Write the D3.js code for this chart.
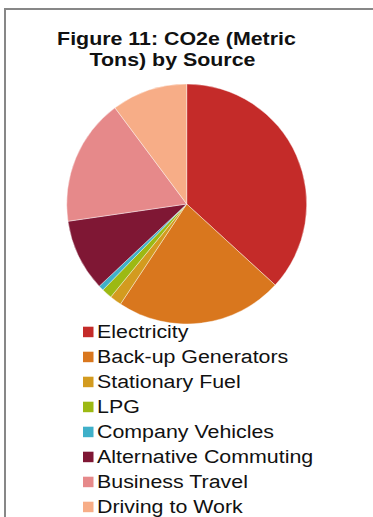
<!DOCTYPE html>
<html>
<head>
<meta charset="utf-8">
<script src="https://cdn.jsdelivr.net/npm/d3@7"></script>
<style>
  html, body { margin: 0; padding: 0; background: #fff; }
  svg { display: block; }
</style>
</head>
<body>
<svg id="chart" width="373" height="517"></svg>
<script>
// CO2e by source, metric tons
const sources = ["Electricity", "Back-up Generators", "Stationary Fuel", "LPG",
                 "Company Vehicles", "Alternative Commuting", "Business Travel", "Driving to Work"];
const tons = [368, 225, 16, 14, 7, 97, 171, 102];
const colors = ["#c42b29", "#d9771e", "#d39b1f", "#9cb913", "#3fb0c9", "#7f1734", "#e6898a", "#f7ad87"];
const titleLines = ["Figure 11: CO2e (Metric", "Tons) by Source"];

window.addEventListener('load', () => {
    const svg = d3.select("#chart");
    const sx = 1.15; // the original picture is stretched sideways a bit

    // frame (only top and left edges show in the crop)
    svg.append("path")
        .attr("d", "M5,517 V9 H373")
        .attr("fill", "none")
        .attr("stroke", "#878787")
        .attr("stroke-width", 2);

    svg.append("text")
        .attr("transform", `scale(${sx},1)`)
        .attr("font-family", "Liberation Sans, Arial, sans-serif")
        .attr("font-weight", "bold")
        .attr("font-size", 18.6)
        .attr("fill", "#111")
        .attr("text-anchor", "middle")
        .selectAll("tspan")
        .data(titleLines)
        .join("tspan")
        .attr("x", (d, i) => (i == 0 ? 176.5 : 172.5) / sx)
        .attr("y", (d, i) => 45 + i * 21.3)
        .text(d => d);

    const cx = 186.7, cy = 204, r = 120;
    const data = sources.map((s, i) => ({name: s, value: tons[i], color: colors[i]}));

    const pie = d3.pie().sort(null).value(d => d.value);
    const arc = d3.arc().innerRadius(0).outerRadius(r);

    svg.append("g")
        .attr("transform", `translate(${cx},${cy})`)
        .selectAll("path")
        .data(pie(data))
        .join("path")
        .attr("d", arc)
        .attr("fill", d => d.data.color)
        .attr("stroke", "#fff")
        .attr("stroke-width", 0.4);

    const legend = svg.append("g")
        .selectAll("g")
        .data(data)
        .join("g")
        .attr("transform", (d, i) => `translate(83,${326.7 + i * 25})`);

    legend.append("rect")
        .attr("width", 10.5)
        .attr("height", 10.5)
        .attr("fill", d => d.color);

    legend.append("text")
        .attr("transform", `scale(${sx},1)`)
        .attr("x", 14 / sx)
        .attr("y", 10.8)
        .attr("font-family", "Liberation Sans, Arial, sans-serif")
        .attr("font-size", 18.6)
        .attr("fill", "#111")
        .text(d => d.name);
});
</script>
</body>
</html>
